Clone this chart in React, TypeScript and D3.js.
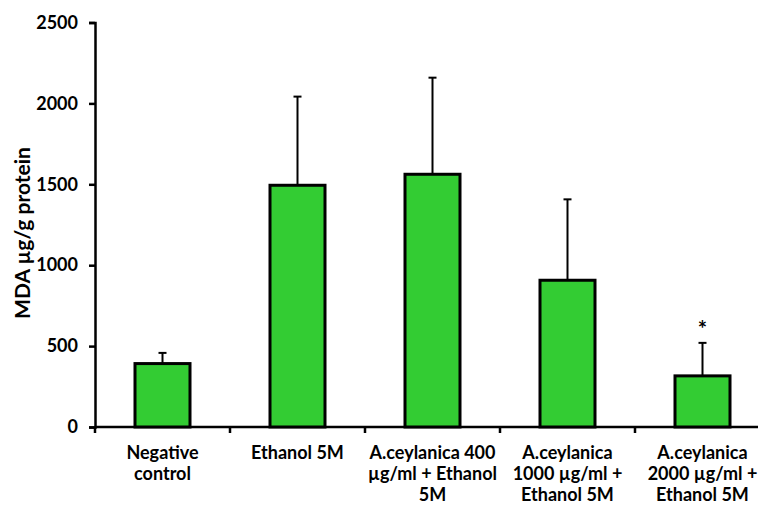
import { useEffect, useRef } from 'react'
import * as d3 from 'd3'

const groups = [
  ['Negative', 'control'],
  ['Ethanol 5M'],
  ['A.ceylanica 400', 'µg/ml + Ethanol', '5M'],
  ['A.ceylanica', '1000 µg/ml +', 'Ethanol 5M'],
  ['A.ceylanica', '2000 µg/ml +', 'Ethanol 5M'],
]
const means = [392, 1494, 1562, 907, 316]
const errors = [66, 548, 597, 500, 204]
const marks = ['', '', '', '', '*']
const yTicks = [0, 500, 1000, 1500, 2000, 2500]

const width = 758
const height = 508
const font = 'Lato, Carlito, Calibri, sans-serif'

export default function App() {
  const svgRef = useRef<SVGSVGElement>(null)

  useEffect(() => {
    const svg = d3.select(svgRef.current)
    svg.selectAll('*').remove()

    const left = 95
    const bandW = 135
    const x = d3.scaleBand<number>()
      .domain(d3.range(groups.length))
      .range([left, left + bandW * groups.length])
      .paddingInner(0).paddingOuter(0)
    const y = d3.scaleLinear().domain([0, 2500]).range([427, 22.5])
    const barW = 55

    // y axis
    const yAxis = svg.append('g')
      .attr('transform', `translate(${left},0)`)
      .call(d3.axisLeft(y).tickValues(yTicks).tickSize(6).tickPadding(11).tickFormat(d3.format('d')))
    yAxis.select('.domain').attr('stroke', '#000').attr('stroke-width', 2.5)
    yAxis.selectAll('.tick line').attr('stroke', '#000').attr('stroke-width', 2.5)
    yAxis.selectAll('.tick text')
      .attr('font-family', font).attr('font-size', 18).attr('font-weight', 'bold').attr('fill', '#000')

    // x axis
    svg.append('line')
      .attr('x1', left).attr('x2', width).attr('y1', y(0)).attr('y2', y(0))
      .attr('stroke', '#000').attr('stroke-width', 2.5)
    svg.selectAll('.xtick')
      .data(d3.range(groups.length + 1))
      .join('line')
      .attr('x1', d => left + d * bandW).attr('x2', d => left + d * bandW)
      .attr('y1', y(0)).attr('y2', y(0) + 6)
      .attr('stroke', '#000').attr('stroke-width', 2.5)

    // error bars (upper only)
    const cx = (i: number) => (x(i) as number) + x.bandwidth() / 2
    const eb = svg.append('g')
    means.forEach((m, i) => {
      eb.append('line')
        .attr('x1', cx(i)).attr('x2', cx(i))
        .attr('y1', y(m)).attr('y2', y(m + errors[i]))
        .attr('stroke', '#000').attr('stroke-width', 2)
      eb.append('line')
        .attr('x1', cx(i) - 4).attr('x2', cx(i) + 4)
        .attr('y1', y(m + errors[i])).attr('y2', y(m + errors[i]))
        .attr('stroke', '#000').attr('stroke-width', 2)
    })

    // bars
    svg.append('g').selectAll('rect')
      .data(means)
      .join('rect')
      .attr('x', (_, i) => cx(i) - barW / 2)
      .attr('width', barW)
      .attr('y', d => y(d))
      .attr('height', d => y(0) - y(d))
      .attr('fill', '#33cc33')
      .attr('stroke', '#000')
      .attr('stroke-width', 3)

    // significance marks
    svg.append('g').selectAll('text')
      .data(marks)
      .join('text')
      .attr('x', (_, i) => cx(i))
      .attr('y', (d, i) => y(means[i] + errors[i]) - 6)
      .attr('text-anchor', 'middle')
      .attr('font-family', font).attr('font-size', 22).attr('font-weight', 'bold')
      .text(d => d)

    // category labels
    groups.forEach((lines, i) => {
      const t = svg.append('text')
        .attr('text-anchor', 'middle')
        .attr('font-family', font).attr('font-size', 18).attr('font-weight', 'bold')
      lines.forEach((ln, j) => {
        t.append('tspan').attr('x', cx(i)).attr('y', 459 + j * 21).text(ln)
      })
    })

    // y label
    svg.append('text')
      .attr('transform', 'translate(30,233) rotate(-90)')
      .attr('text-anchor', 'middle')
      .attr('font-family', font).attr('font-size', 21).attr('font-weight', 'bold')
      .text('MDA µg/g protein')
  }, [])

  return (
    <svg
      ref={svgRef}
      width={width}
      height={height}
      style={{ position: 'absolute', left: 0, top: 0, background: '#fff' }}
    />
  )
}
